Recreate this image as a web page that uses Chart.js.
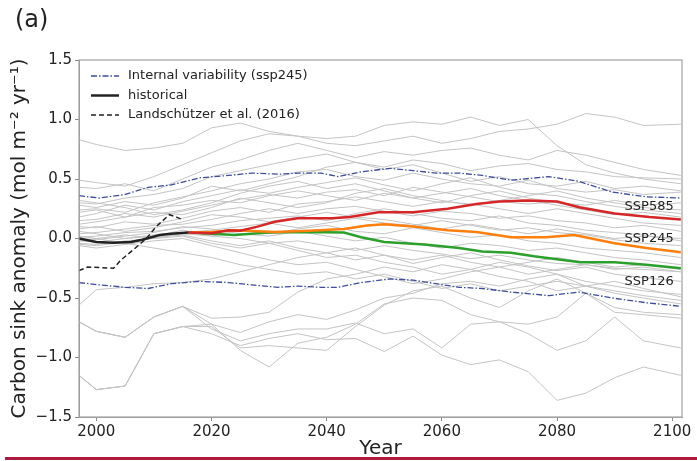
<!DOCTYPE html>
<html lang="en">
<head>
<meta charset="UTF-8">
<title>Carbon sink anomaly</title>
<script src="https://cdn.jsdelivr.net/npm/chart.js"></script>
<style>
  html, body { margin: 0; padding: 0; background: #fff; }
  #wrap { position: relative; width: 697px; height: 461px; }
  #rule { position: absolute; left: 5px; top: 457px; width: 692px; height: 3px; background: #b0193f; }
</style>
</head>
<body>
<div id="wrap">
  <canvas id="sinkChart" width="697" height="461"></canvas>
  <div id="rule"></div>
</div>
<script>
// axis ticks
const xTicks = [2000, 2020, 2040, 2060, 2080, 2100];
const yTicks = [-1.5, -1.0, -0.5, 0.0, 0.5, 1.0, 1.5];

// historical mean and observation-based estimate
const histYears = [1997, 2000, 2003, 2006, 2008, 2011, 2013, 2016];
const histVals  = [0.00, -0.03, -0.035, -0.03, -0.01, 0.03, 0.04, 0.05];
const landYears = [1997, 1998.5, 2003, 2004.3, 2006.3, 2008.7, 2010.4, 2012.7, 2013.9, 2014.9];
const landVals  = [-0.27, -0.24, -0.25, -0.18, -0.10, 0.00, 0.10, 0.20, 0.18, 0.16];

// scenario means
const ssp585Years = [2016, 2020, 2023, 2025, 2028, 2031, 2035, 2041, 2044, 2049, 2055, 2061, 2066, 2070, 2075, 2080, 2084, 2090, 2096, 2101.5];
const ssp585Vals  = [0.05, 0.045, 0.07, 0.065, 0.10, 0.14, 0.17, 0.17, 0.18, 0.22, 0.22, 0.25, 0.29, 0.31, 0.32, 0.31, 0.26, 0.21, 0.18, 0.16];
const ssp245Years = [2016, 2020, 2024, 2031, 2037, 2043, 2047, 2050, 2055, 2061, 2066, 2072, 2078, 2083, 2087, 2090, 2095.5, 2101.5];
const ssp245Vals  = [0.05, 0.055, 0.07, 0.055, 0.065, 0.08, 0.11, 0.12, 0.10, 0.07, 0.055, 0.01, 0.01, 0.03, -0.01, -0.04, -0.08, -0.115];
const ssp126Years = [2016, 2020, 2024, 2030, 2036, 2043, 2046, 2050, 2057, 2063, 2067, 2072, 2076, 2084, 2090, 2095.5, 2101.5];
const ssp126Vals  = [0.05, 0.04, 0.03, 0.05, 0.055, 0.05, 0.01, -0.03, -0.05, -0.08, -0.11, -0.12, -0.15, -0.20, -0.20, -0.22, -0.25];

// internal variability envelope (ssp245)
const ivYears = [1997, 2000.5, 2005, 2009, 2013, 2018, 2023, 2027, 2031.6, 2035, 2039, 2042, 2046, 2051, 2055, 2059, 2063, 2067, 2072, 2078.6, 2083.8, 2089.6, 2095.5, 2101.5];
const ivUpper = [0.36, 0.34, 0.37, 0.43, 0.45, 0.51, 0.53, 0.55, 0.54, 0.55, 0.55, 0.52, 0.56, 0.59, 0.57, 0.55, 0.55, 0.53, 0.49, 0.52, 0.48, 0.39, 0.35, 0.34];
const ivLower = [-0.37, -0.39, -0.41, -0.42, -0.38, -0.36, -0.37, -0.39, -0.41, -0.40, -0.41, -0.41, -0.37, -0.34, -0.35, -0.38, -0.41, -0.42, -0.45, -0.48, -0.45, -0.50, -0.54, -0.57];

// individual ensemble members
const grayYears = [1997, 2000, 2005, 2010, 2015, 2020, 2025, 2030, 2035, 2040, 2045, 2050, 2055, 2060, 2065, 2070, 2075, 2080, 2085, 2090, 2095, 2101.5];
const grayRuns = [
  [0.83, 0.79, 0.74, 0.76, 0.80, 0.93, 0.97, 0.90, 0.86, 0.84, 0.86, 0.95, 0.98, 0.96, 1.02, 0.95, 1.00, 0.78, 0.62, 0.55, 0.50, 0.46],
  [0.49, 0.47, 0.44, 0.52, 0.62, 0.72, 0.82, 0.88, 0.86, 0.80, 0.78, 0.82, 0.86, 0.80, 0.84, 0.90, 0.92, 0.96, 1.05, 1.02, 0.95, 0.96],
  [0.43, 0.42, 0.46, 0.40, 0.50, 0.60, 0.66, 0.74, 0.80, 0.74, 0.68, 0.73, 0.70, 0.74, 0.76, 0.70, 0.66, 0.74, 0.70, 0.64, 0.58, 0.53],
  [0.30, 0.29, 0.34, 0.37, 0.42, 0.52, 0.57, 0.62, 0.67, 0.71, 0.64, 0.60, 0.66, 0.63, 0.57, 0.61, 0.63, 0.58, 0.56, 0.52, 0.51, 0.50],
  [0.24, 0.25, 0.22, 0.30, 0.35, 0.40, 0.46, 0.50, 0.56, 0.58, 0.52, 0.49, 0.55, 0.50, 0.46, 0.44, 0.49, 0.42, 0.39, 0.41, 0.37, 0.39],
  [0.18, 0.21, 0.28, 0.24, 0.31, 0.36, 0.41, 0.38, 0.43, 0.47, 0.51, 0.45, 0.40, 0.46, 0.51, 0.43, 0.38, 0.36, 0.31, 0.27, 0.24, 0.21],
  [0.15, 0.16, 0.21, 0.18, 0.23, 0.28, 0.33, 0.37, 0.34, 0.39, 0.41, 0.36, 0.43, 0.39, 0.35, 0.31, 0.29, 0.31, 0.26, 0.21, 0.19, 0.16],
  [0.10, 0.09, 0.14, 0.12, 0.17, 0.23, 0.26, 0.22, 0.29, 0.31, 0.35, 0.31, 0.27, 0.31, 0.29, 0.25, 0.21, 0.25, 0.21, 0.17, 0.13, 0.11],
  [0.04, 0.05, 0.08, 0.11, 0.12, 0.16, 0.21, 0.25, 0.21, 0.25, 0.27, 0.23, 0.19, 0.23, 0.21, 0.17, 0.19, 0.15, 0.13, 0.09, 0.11, 0.06],
  [0.01, 0.02, 0.05, 0.06, 0.09, 0.11, 0.15, 0.17, 0.19, 0.15, 0.21, 0.25, 0.21, 0.17, 0.15, 0.19, 0.13, 0.11, 0.07, 0.05, 0.03, -0.02],
  [-0.02, -0.03, 0.00, 0.03, 0.05, 0.07, 0.10, 0.13, 0.09, 0.13, 0.17, 0.13, 0.11, 0.15, 0.11, 0.07, 0.09, 0.05, 0.03, -0.01, -0.04, -0.06],
  [-0.04, -0.05, -0.02, 0.00, 0.04, 0.02, 0.07, 0.04, 0.08, 0.11, 0.06, 0.04, 0.09, 0.05, 0.01, 0.03, -0.02, -0.04, -0.08, -0.10, -0.12, -0.16],
  [0.00, -0.01, 0.02, 0.05, 0.10, 0.08, 0.04, 0.02, 0.06, 0.02, -0.02, 0.01, -0.04, -0.08, -0.04, -0.06, -0.10, -0.08, -0.12, -0.16, -0.18, -0.22],
  [0.06, 0.04, 0.00, 0.02, 0.07, 0.02, 0.00, -0.04, -0.02, -0.06, -0.10, -0.06, -0.10, -0.13, -0.17, -0.14, -0.18, -0.21, -0.22, -0.25, -0.26, -0.28],
  [0.22, 0.24, 0.18, 0.26, 0.28, 0.32, 0.30, 0.36, 0.40, 0.36, 0.32, 0.38, 0.34, 0.30, 0.36, 0.40, 0.34, 0.30, 0.28, 0.32, 0.28, 0.30],
  [0.12, 0.14, 0.18, 0.22, 0.20, 0.26, 0.34, 0.30, 0.26, 0.30, 0.38, 0.42, 0.36, 0.32, 0.28, 0.32, 0.36, 0.40, 0.34, 0.30, 0.26, 0.24],
  [0.32, 0.30, 0.26, 0.20, 0.24, 0.30, 0.38, 0.44, 0.48, 0.42, 0.46, 0.40, 0.34, 0.38, 0.42, 0.36, 0.32, 0.28, 0.24, 0.20, 0.22, 0.18],
  [0.28, 0.26, 0.31, 0.28, 0.34, 0.44, 0.40, 0.46, 0.52, 0.60, 0.64, 0.58, 0.62, 0.55, 0.48, 0.52, 0.46, 0.44, 0.48, 0.42, 0.44, 0.40],
  [0.08, 0.10, 0.06, 0.09, 0.14, 0.20, 0.18, 0.14, 0.18, 0.22, 0.18, 0.16, 0.12, 0.08, 0.12, 0.08, 0.04, 0.08, 0.04, 0.00, 0.02, 0.00],
  [-0.05, -0.06, -0.03, 0.01, 0.03, -0.02, -0.06, -0.02, -0.08, -0.12, -0.08, -0.14, -0.18, -0.14, -0.20, -0.24, -0.20, -0.16, -0.20, -0.24, -0.22, -0.26],
  [-0.56, -0.43, -0.41, -0.38, -0.37, -0.34, -0.28, -0.22, -0.16, -0.12, -0.18, -0.14, -0.21, -0.16, -0.12, -0.18, -0.23, -0.27, -0.24, -0.30, -0.33, -0.36],
  [-0.70, -0.78, -0.83, -0.66, -0.57, -0.67, -0.66, -0.62, -0.45, -0.34, -0.30, -0.24, -0.28, -0.22, -0.26, -0.20, -0.24, -0.30, -0.36, -0.40, -0.44, -0.47],
  [-1.15, -1.27, -1.24, -0.80, -0.74, -0.72, -0.79, -0.70, -0.64, -0.68, -0.60, -0.50, -0.46, -0.38, -0.36, -0.40, -0.34, -0.30, -0.40, -0.36, -0.42, -0.49],
  [-0.70, -0.78, -0.83, -0.66, -0.57, -0.72, -0.94, -1.08, -0.88, -0.83, -0.72, -0.55, -0.50, -0.52, -0.64, -0.70, -0.72, -0.66, -0.46, -0.62, -0.64, -0.67],
  [-1.15, -1.27, -1.24, -0.80, -0.74, -0.80, -0.90, -0.84, -0.80, -0.85, -0.84, -0.95, -0.82, -0.98, -1.06, -1.02, -1.12, -1.36, -1.30, -1.17, -1.08, -1.15],
  [-0.70, -0.78, -0.83, -0.66, -0.57, -0.76, -0.86, -0.80, -0.76, -0.76, -0.71, -0.80, -0.76, -0.92, -0.72, -0.70, -0.80, -0.94, -0.86, -0.66, -0.86, -0.92],
  [-1.15, -1.27, -1.24, -0.80, -0.74, -0.74, -0.92, -0.90, -0.92, -0.94, -0.74, -0.56, -0.44, -0.40, -0.50, -0.58, -0.44, -0.34, -0.46, -0.58, -0.62, -0.64],
  [0.02, 0.00, -0.04, -0.08, -0.12, -0.16, -0.22, -0.26, -0.30, -0.28, -0.34, -0.30, -0.36, -0.42, -0.38, -0.44, -0.40, -0.36, -0.40, -0.44, -0.48, -0.52],
  [-0.06, -0.08, -0.05, -0.02, 0.00, -0.06, -0.12, -0.18, -0.22, -0.20, -0.26, -0.32, -0.38, -0.34, -0.28, -0.24, -0.30, -0.26, -0.22, -0.26, -0.24, -0.28],
  [-0.02, 0.00, 0.03, 0.00, 0.02, -0.04, -0.08, -0.04, -0.10, -0.16, -0.14, -0.20, -0.24, -0.30, -0.26, -0.32, -0.36, -0.44, -0.40, -0.46, -0.50, -0.55]
];

// text labels at the right end of the scenario lines
const sspNames = ['SSP585', 'SSP245', 'SSP126'];
const sspNameYear = 2096;
const sspNameVals = [0.265, 0.0, -0.36];

const FONT = "'DejaVu Sans', sans-serif";
const toXY = (xs, ys) => xs.map((x, i) => ({ x: x, y: ys[i] }));

const datasets = [
  { label: 'historical', data: toXY(histYears, histVals), borderColor: '#222222', borderWidth: 2.5, order: 0 },
  { label: 'Landschützer et al. (2016)', data: toXY(landYears, landVals), borderColor: '#222222', borderWidth: 1.5, borderDash: [5, 3], order: 0 },
  { label: 'SSP585', data: toXY(ssp585Years, ssp585Vals), borderColor: '#d62728', borderWidth: 2.5, order: 1 },
  { label: 'SSP245', data: toXY(ssp245Years, ssp245Vals), borderColor: '#ff7f0e', borderWidth: 2.5, order: 1 },
  { label: 'SSP126', data: toXY(ssp126Years, ssp126Vals), borderColor: '#2ca02c', borderWidth: 2.5, order: 1 },
  { label: 'Internal variability (ssp245)', data: toXY(ivYears, ivUpper), borderColor: '#3d4c9c', borderWidth: 1.3, borderDash: [6, 2, 1.5, 2], order: 2 },
  { label: 'iv lower', data: toXY(ivYears, ivLower), borderColor: '#3d4c9c', borderWidth: 1.3, borderDash: [6, 2, 1.5, 2], order: 2 }
];
grayRuns.forEach((run, i) => {
  datasets.push({ label: 'member ' + (i + 1), data: toXY(grayYears, run), borderColor: '#c4c4c4', borderWidth: 1, order: 5 });
});

// frame, panel letter, legend and scenario names
const decorations = {
  id: 'decorations',
  afterDatasetsDraw(chart) {
    const { ctx, chartArea: a, scales } = chart;
    ctx.save();
    // frame on all four sides
    ctx.strokeStyle = '#a0a0a0';
    ctx.lineWidth = 1.2;
    ctx.strokeRect(a.left, a.top, a.right - a.left, a.bottom - a.top);

    // scenario names
    ctx.fillStyle = '#222';
    ctx.font = '13px ' + FONT;
    ctx.textAlign = 'center';
    ctx.textBaseline = 'middle';
    sspNames.forEach((name, i) => {
      ctx.fillText(name, scales.x.getPixelForValue(sspNameYear), scales.y.getPixelForValue(sspNameVals[i]));
    });

    // legend (top-left, inside the axes)
    const items = [5, 0, 1].map(i => chart.data.datasets[i]);
    ctx.textAlign = 'left';
    items.forEach((ds, i) => {
      const y = a.top + 16 + i * 19.5;
      ctx.beginPath();
      ctx.strokeStyle = ds.borderColor;
      ctx.lineWidth = ds.borderWidth;
      ctx.setLineDash(ds.borderDash || []);
      ctx.moveTo(a.left + 12, y);
      ctx.lineTo(a.left + 40, y);
      ctx.stroke();
      ctx.setLineDash([]);
      ctx.fillStyle = '#222';
      ctx.fillText(ds.label, a.left + 49, y);
    });

    // panel letter
    ctx.font = '24px ' + FONT;
    ctx.textBaseline = 'alphabetic';
    ctx.fillText('(a)', 15, 27);
    ctx.restore();
  }
};

new Chart(document.getElementById('sinkChart').getContext('2d'), {
  type: 'line',
  data: { datasets: datasets },
  options: {
    responsive: false,
    animation: false,
    devicePixelRatio: 1,
    layout: { padding: { top: 60, right: 15, bottom: 0, left: 0 } },
    elements: { point: { radius: 0 }, line: { tension: 0, fill: false } },
    plugins: { legend: { display: false }, tooltip: { enabled: false } },
    scales: {
      x: {
        type: 'linear',
        min: 1997,
        max: 2101.7,
        afterBuildTicks: s => { s.ticks = xTicks.map(v => ({ value: v })); },
        afterFit: s => { s.height = 44; },
        ticks: { color: '#222', font: { family: FONT, size: 15 }, padding: 2, maxRotation: 0, callback: v => String(v) },
        grid: { drawOnChartArea: false, tickLength: 4, color: '#888' },
        border: { color: '#a0a0a0' },
        title: { display: true, text: 'Year', color: '#222', font: { family: FONT, size: 20 }, padding: { top: 0, bottom: 0 } }
      },
      y: {
        min: -1.5,
        max: 1.5,
        afterBuildTicks: s => { s.ticks = yTicks.map(v => ({ value: v })); },
        afterFit: s => { s.width = 79; },
        ticks: { color: '#222', font: { family: FONT, size: 15 }, padding: 3, callback: v => v.toFixed(1).replace('-', '\u2212') },
        grid: { drawOnChartArea: false, tickLength: 4, color: '#888' },
        border: { color: '#a0a0a0' },
        title: { display: true, text: 'Carbon sink anomaly (mol m\u207B\u00B2 yr\u207B\u00B9)', color: '#222', font: { family: FONT, size: 20 }, padding: { top: 8, bottom: 0 } }
      }
    }
  },
  plugins: [decorations]
});
</script>
</body>
</html>
